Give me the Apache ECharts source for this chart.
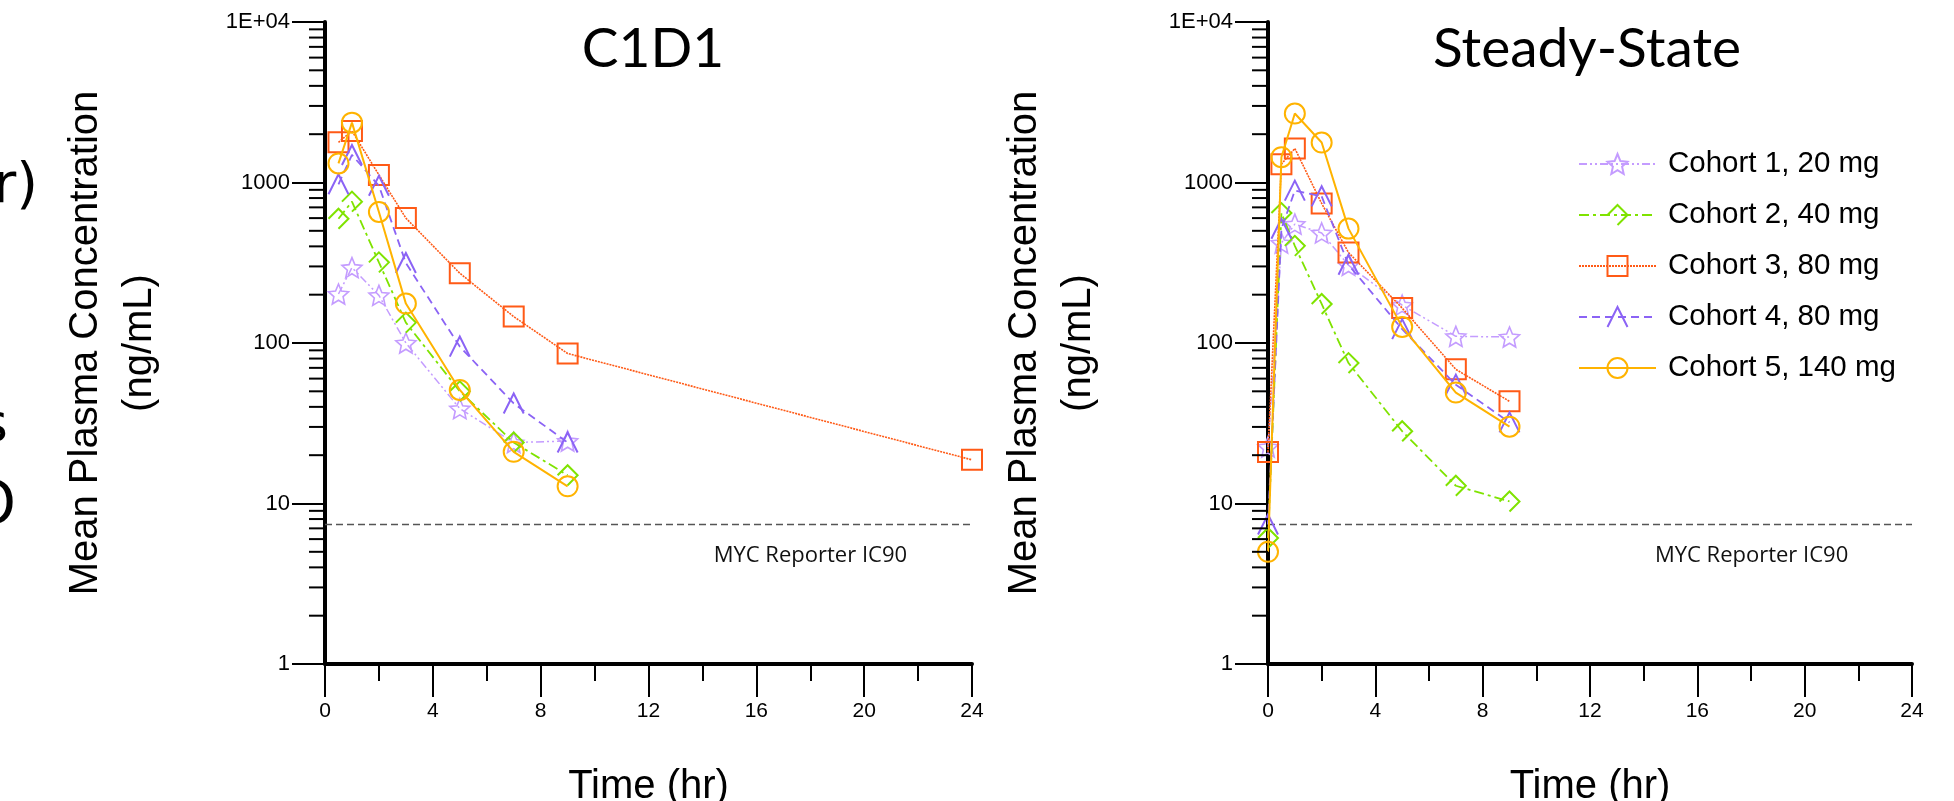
<!DOCTYPE html>
<html><head><meta charset="utf-8">
<script src="https://cdn.jsdelivr.net/npm/echarts@6/dist/echarts.min.js"></script>
<style>html,body{margin:0;padding:0;background:#fff;overflow:hidden}#chart{width:1954px;height:801px}</style>
</head><body><div id="chart"></div>
<script>
// ---------------- DATA ----------------
const cohortNames = ['Cohort 1, 20 mg', 'Cohort 2, 40 mg', 'Cohort 3, 80 mg', 'Cohort 4, 80 mg', 'Cohort 5, 140 mg'];
const panelTitles = ['C1D1', 'Steady-State'];

// C1D1 (hr)
const c1d1Time = [0.5, 1, 2, 3, 5, 7, 9];
const c1d1Cohort3Time = [0.5, 1, 2, 3, 5, 7, 9, 24];
const c1d1Cohort1 = [202, 295, 198, 100, 39, 24, 24.5];
const c1d1Cohort2 = [595, 760, 318, 134, 50, 24, 15];
const c1d1Cohort3 = [1780, 2095, 1115, 600, 272, 146, 86, 18.7];
const c1d1Cohort4 = [975, 1485, 955, 315, 95, 42, 24];
const c1d1Cohort5 = [1315, 2360, 655, 176, 51, 21, 12.8];

// Steady-State (hr)
const ssTime = [0, 0.5, 1, 2, 3, 5, 7, 9];
const ssCohort1 = [22.5, 420, 550, 485, 305, 172, 110, 109];
const ssCohort2 = [6.1, 645, 403, 175, 75, 28.2, 12.9, 10.3];
const ssCohort3 = [20.9, 1300, 1630, 740, 366, 165, 68.5, 43.3];
const ssCohort4 = [7.4, 515, 890, 820, 307, 122, 55, 32];
const ssCohort5 = [5.0, 1437, 2690, 1774, 516, 126, 49.1, 30.1];

// Reference line
const ic90Value = 7.4;
const ic90Span = [0, 24];
const ic90Label = 'MYC Reporter IC90';
const ic90LabelAt = [14.4, 4.7];

// Axes
const xTickValues = [0, 4, 8, 12, 16, 20, 24];
const yTickValues = [1, 10, 100, 1000, 10000];
const yTickLabels = ['1', '10', '100', '1000', '1E+04'];
const yMinorTickValues = [2, 3, 4, 5, 6, 7, 8, 9,
  20, 30, 40, 50, 60, 70, 80, 90,
  200, 300, 400, 500, 600, 700, 800, 900,
  2000, 3000, 4000, 5000, 6000, 7000, 8000, 9000];
const xAxisName = 'Time (hr)';
const yAxisName = 'Mean Plasma Concentration\n(ng/mL)';

// ---------------- STYLE ----------------
const starPath = 'path://M10,0 L12.9,6.9 L20,7.6 L14.6,12.3 L16.2,19.5 L10,15.8 L3.8,19.5 L5.4,12.3 L0,7.6 L7.1,6.9 Z';
const openDiamond = 'path://M0,10 L10,0 L20,10 L10,20';
const openTriangle = 'path://M0,20 L10,0 L20,20';
const cohortStyles = [
  { color: '#C49CFF', symbol: starPath, dash: [8, 3, 2, 3, 2, 3], width: 1.5, bw: 1.6 },
  { color: '#7FE300', symbol: openDiamond, dash: [10, 4, 3, 4], width: 1.8, bw: 2 },
  { color: '#FF5A16', symbol: 'rect', dash: [2, 1], width: 1.6, bw: 2 },
  { color: '#8B63F5', symbol: openTriangle, dash: [8, 5], width: 1.8, bw: 2 },
  { color: '#FFB300', symbol: 'circle', dash: 'solid', width: 2, bw: 2 }
];
const ARIAL = '"Liberation Sans", Arial, sans-serif';
const TITLEFONT = 'Lato, "Open Sans", sans-serif';
const LABELFONT = '"Open Sans", "Noto Sans", sans-serif';

const panels = [
  { times: [c1d1Time, c1d1Time, c1d1Cohort3Time, c1d1Time, c1d1Time],
    values: [c1d1Cohort1, c1d1Cohort2, c1d1Cohort3, c1d1Cohort4, c1d1Cohort5] },
  { times: [ssTime, ssTime, ssTime, ssTime, ssTime],
    values: [ssCohort1, ssCohort2, ssCohort3, ssCohort4, ssCohort5] }
];

const grids = [
  { left: 325, top: 22, width: 647, height: 642, containLabel: false, outerBoundsMode: 'none' },
  { left: 1268, top: 22, width: 644, height: 642, containLabel: false, outerBoundsMode: 'none' }
];

const series = [];
panels.forEach((p, g) => {
  cohortNames.forEach((name, i) => {
    const st = cohortStyles[i];
    series.push({
      type: 'line', name, xAxisIndex: g, yAxisIndex: g,
      data: p.times[i].map((t, k) => [t, p.values[i][k]]),
      symbol: st.symbol, symbolSize: 20, showSymbol: true, showAllSymbol: true,
      itemStyle: { color: 'rgba(0,0,0,0)', borderColor: st.color, borderWidth: st.bw },
      lineStyle: { color: st.color, width: st.width, type: st.dash },
      emphasis: { disabled: true }, animation: false, z: 3 + i
    });
  });
  // IC90 reference line
  series.push({
    type: 'line', name: 'IC90', xAxisIndex: g, yAxisIndex: g,
    data: ic90Span.map(x => [x, ic90Value]), symbol: 'none',
    lineStyle: { color: '#555', width: 1.5, type: [7, 4] },
    silent: true, animation: false, z: 2,
    markPoint: {
      symbol: 'circle', symbolSize: 1, itemStyle: { color: 'rgba(0,0,0,0)' }, silent: true, animation: false,
      label: { show: true, position: 'right', distance: 0, formatter: ic90Label,
        fontFamily: LABELFONT, fontSize: 22, color: '#111' },
      data: [{ coord: ic90LabelAt }]
    }
  });
  // log minor ticks on the y axis
  series.push({
    type: 'custom', xAxisIndex: g, yAxisIndex: g, silent: true, animation: false, clip: false, z: 10,
    data: yMinorTickValues.map(v => [0, v]),
    renderItem: (params, api) => {
      const pt = api.coord([0, api.value(1)]);
      return { type: 'line', shape: { x1: pt[0] - 16, y1: pt[1], x2: pt[0], y2: pt[1] },
        style: { stroke: '#000', lineWidth: 2 } };
    }
  });
});

const xAxes = grids.map((gr, g) => ({
  type: 'value', gridIndex: g, min: 0, max: 24, interval: 4,
  axisLine: { show: true, onZero: false, lineStyle: { color: '#000', width: 4 } },
  axisTick: { show: true, length: 33, lineStyle: { color: '#000', width: 2 } },
  minorTick: { show: true, splitNumber: 2, length: 17, lineStyle: { color: '#000', width: 2 } },
  axisLabel: { fontSize: 21, color: '#000', margin: 37, fontFamily: ARIAL,
    formatter: v => (xTickValues.indexOf(v) >= 0 ? String(v) : '') },
  splitLine: { show: false },
  name: xAxisName, nameLocation: 'middle', nameGap: 103,
  nameTextStyle: { fontSize: 40, color: '#000', fontFamily: ARIAL }
}));

const yAxes = grids.map((gr, g) => ({
  type: 'log', logBase: 10, gridIndex: g, min: 1, max: 10000,
  axisLine: { show: true, lineStyle: { color: '#000', width: 4 } },
  axisTick: { show: true, length: 33, lineStyle: { color: '#000', width: 2 } },
  axisLabel: { fontSize: 22, color: '#000', margin: 35, fontFamily: ARIAL,
    formatter: v => { const k = yTickValues.indexOf(Math.round(v)); return k >= 0 ? yTickLabels[k] : ''; } },
  splitLine: { show: false },
  name: yAxisName, nameLocation: 'middle', nameRotate: 90, nameGap: g === 0 ? 158 : 162,
  nameTextStyle: { fontSize: 40, lineHeight: 54, color: '#000', fontFamily: ARIAL, align: 'center' }
}));

const option = {
  backgroundColor: '#fff',
  animation: false,
  title: [
    { text: panelTitles[0], left: 648, top: 17, textAlign: 'center',
      textStyle: { fontFamily: TITLEFONT, fontSize: 55, fontWeight: 'normal', color: '#000' } },
    { text: panelTitles[1], left: 1582, top: 17, textAlign: 'center',
      textStyle: { fontFamily: TITLEFONT, fontSize: 55, fontWeight: 'normal', color: '#000' } }
  ],
  legend: {
    data: cohortNames, orient: 'vertical', left: 1573, top: 144,
    itemWidth: 77, itemHeight: 25, itemGap: 21, selectedMode: false,
    textStyle: { fontFamily: ARIAL, fontSize: 29.5, lineHeight: 30, color: '#000', padding: [0, 0, 0, 7] }
  },
  grid: grids,
  xAxis: xAxes,
  yAxis: yAxes,
  series,
  graphic: [
    { type: 'text', x: 38, y: 187, style: { text: '(hr)', font: '56px "DejaVu Sans"', fill: '#000', align: 'right', verticalAlign: 'middle' } },
    { type: 'text', x: 8, y: 427, style: { text: 's', font: '54px "DejaVu Sans"', fill: '#000', align: 'right', verticalAlign: 'middle' } },
    { type: 'text', x: 16, y: 508, style: { text: 'O', font: '58px "DejaVu Sans"', fill: '#000', align: 'right', verticalAlign: 'middle' } }
  ]
};

const chart = echarts.init(document.getElementById('chart'), null, { renderer: 'canvas' });
chart.setOption(option);
</script>
</body></html>
